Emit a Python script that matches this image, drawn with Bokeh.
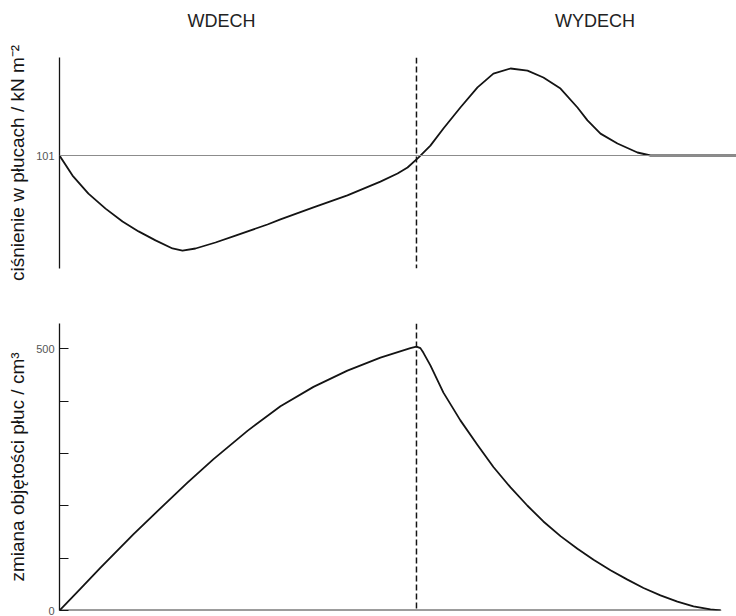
from bokeh.plotting import figure
from bokeh.models import Span, FixedTicker, Range1d
from bokeh.layouts import column
from bokeh.core.properties import value
from bokeh.embed import file_html
from bokeh.resources import INLINE

# ---- data (time in s, inhale ends at 2 s) ----
PHASES = ["WDECH", "WYDECH"]
PHASE_CENTERS = [0.908, 3.0]
INHALE_END = 2.0
T_MAX = 3.793

PRESSURE_REF = 101
PRESSURE_TIME = [0.000, 0.073, 0.162, 0.258, 0.353, 0.443, 0.538, 0.633, 0.689,
                 0.762, 0.874, 0.986, 1.165, 1.238, 1.423, 1.613, 1.798, 1.894,
                 1.950, 2.011, 2.078, 2.151, 2.246, 2.342, 2.431, 2.527, 2.622,
                 2.711, 2.807, 2.902, 2.958, 3.031, 3.126, 3.238, 3.311, 3.793]
PRESSURE = [101.000, 100.933, 100.873, 100.823, 100.780, 100.747, 100.717, 100.690,
            100.683, 100.690, 100.710, 100.733, 100.770, 100.787, 100.827, 100.867,
            100.913, 100.940, 100.960, 100.993, 101.033, 101.090, 101.160, 101.227,
            101.273, 101.290, 101.283, 101.260, 101.223, 101.160, 101.117, 101.073,
            101.040, 101.010, 101.000, 101.000]

VOLUME_TIME = [0.000, 0.118, 0.230, 0.415, 0.605, 0.717, 0.863, 1.053, 1.238, 1.423,
               1.613, 1.798, 1.966, 2.000, 2.022, 2.039, 2.078, 2.151, 2.246, 2.342,
               2.431, 2.527, 2.622, 2.711, 2.807, 2.902, 2.992, 3.087, 3.182, 3.272,
               3.367, 3.462, 3.552, 3.647, 3.703]
VOLUME = [0, 42, 82, 146, 208, 244, 289, 343, 390, 427,
          458, 483, 501, 504, 501, 492, 468, 416, 363, 316,
          274, 235, 200, 170, 142, 118, 97, 77, 59, 43,
          29, 17, 8, 2, 0]
VOLUME_TICKS = [0, 100, 200, 300, 400, 500]
VOLUME_LABELED = [0, 500]

FONT = "Liberation Sans"
INK = "#141414"
FRAME_W = 677
LEFT = 59

x_range = Range1d(0, T_MAX)

common = dict(frame_width=FRAME_W, x_range=x_range, x_axis_location=None,
              output_backend="svg", toolbar_location=None,
              min_border_left=LEFT, min_border_right=0)

# ---- header with phase names ----
head = figure(frame_height=30, y_range=Range1d(0, 1), y_axis_location=None,
              min_border_top=0, min_border_bottom=0, **common)
head.text(x=PHASE_CENTERS, y=[0.333] * len(PHASES), text=PHASES,
          text_align="center", text_baseline="middle",
          text_font=value(FONT), text_font_size="18px", text_color="#222222")

# ---- top: pressure ----
top = figure(frame_height=211, y_range=Range1d(100.6233, 101.3267),
             min_border_top=27, min_border_bottom=22, **common)
top.add_layout(Span(location=PRESSURE_REF, dimension="width",
                    line_color="#8c8c8c", line_width=1.2))
top.add_layout(Span(location=INHALE_END, dimension="height",
                    line_color=INK, line_width=1.5, line_dash="6 3"))
top.line(PRESSURE_TIME, PRESSURE, line_color=INK, line_width=1.8,
         line_join="round", line_cap="round")
top.yaxis.ticker = FixedTicker(ticks=[PRESSURE_REF])
top.yaxis.axis_label = "ciśnienie w płucach / kN m⁻²"

# ---- bottom: volume ----
bot = figure(frame_height=287, y_range=Range1d(0, 548),
             min_border_top=33, min_border_bottom=6, **common)
bot.add_layout(Span(location=INHALE_END, dimension="height",
                    line_color=INK, line_width=1.5, line_dash="6 3"))
bot.segment(x0=[0], y0=[0], x1=[max(VOLUME_TIME)], y1=[0],
            line_color="#3a3a3a", line_width=2.2)
bot.line(VOLUME_TIME, VOLUME, line_color=INK, line_width=1.8,
         line_join="round", line_cap="round")
bot.yaxis.ticker = FixedTicker(ticks=VOLUME_TICKS)
bot.yaxis.major_label_overrides = {t: (str(t) if t in VOLUME_LABELED else "")
                                   for t in VOLUME_TICKS}
bot.yaxis.axis_label = "zmiana objętości płuc / cm³"

for p in (head, top, bot):
    p.xgrid.visible = False
    p.ygrid.visible = False
    p.outline_line_color = None
    p.background_fill_color = "white"
    p.border_fill_color = "white"

for p in (top, bot):
    ax = p.yaxis[0]
    ax.axis_line_color = INK
    ax.axis_line_width = 1.3
    ax.major_tick_line_color = INK
    ax.major_tick_line_width = 1.2
    ax.minor_tick_line_color = None
    ax.major_tick_out = 0
    ax.major_label_text_font = FONT
    ax.major_label_text_font_size = "11px"
    ax.major_label_text_color = "#555555"
    ax.major_label_standoff = 5
    ax.axis_label_text_font = FONT
    ax.axis_label_text_font_size = "19px"
    ax.axis_label_text_font_style = "normal"
    ax.axis_label_text_color = INK
    ax.axis_label_standoff = 5

top.yaxis.major_tick_in = 0
bot.yaxis.major_tick_in = 9

layout = column(head, top, bot, spacing=0)
open("out.html", "w").write(file_html(layout, INLINE))
